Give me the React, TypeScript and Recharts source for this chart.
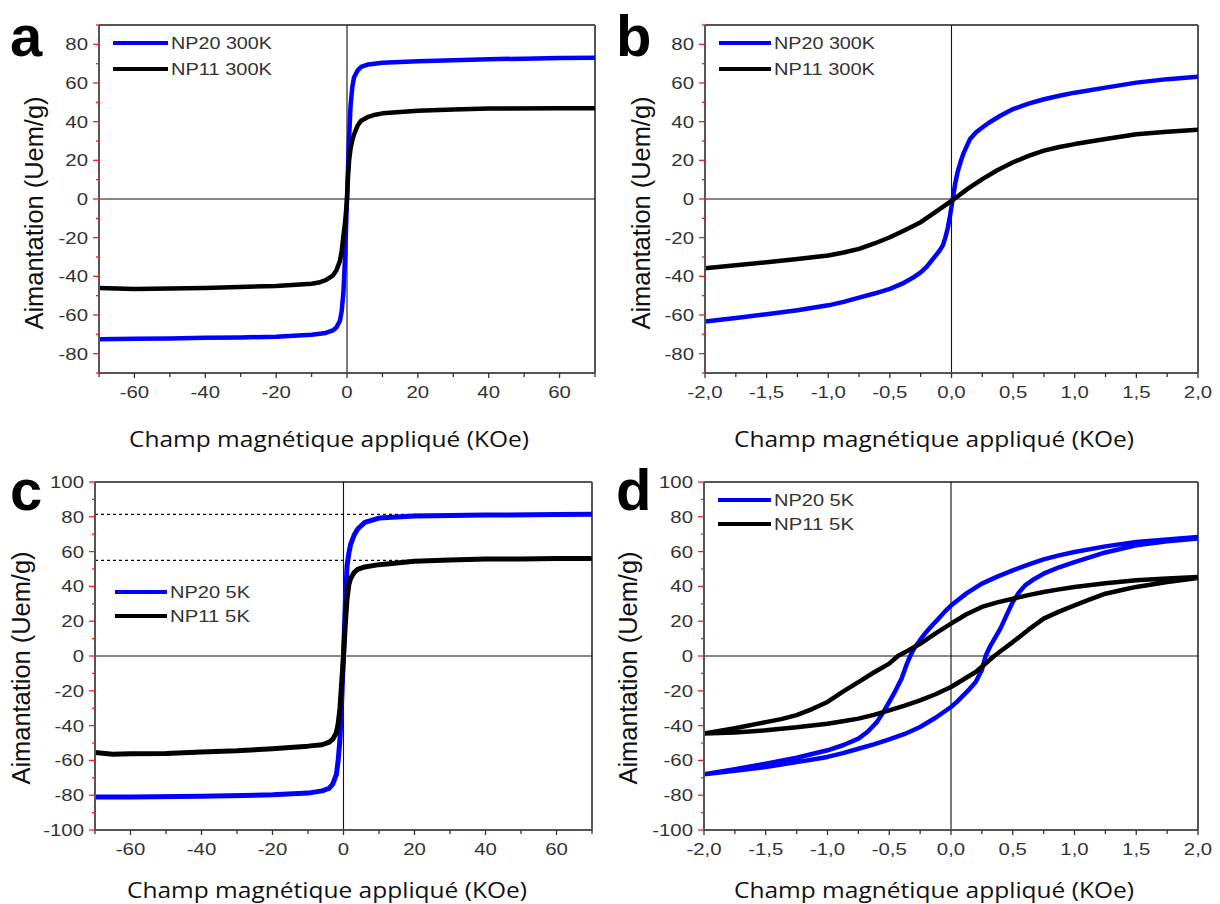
import { LineChart, Line, XAxis, YAxis, ReferenceLine } from 'recharts'

// courbes d'aimantation M(H)
const fieldA20 = [-70, -60, -50, -40, -30, -20, -10, -6, -4, -3, -2, -1.5, -1, -0.5, 0, 0.5, 1, 1.5, 2, 3, 4, 6, 10, 20, 30, 40, 50, 60, 70]
const np20A = [-72.5, -72.3, -72.2, -71.8, -71.6, -71.2, -70.2, -69.3, -68, -66.5, -63, -58, -48, -28, 0, 28, 48, 58, 63, 66.5, 68.3, 69.6, 70.5, 71.3, 71.8, 72.3, 72.6, 72.9, 73.1]
const fieldA11 = [-70, -60, -40, -20, -10, -8, -6, -4, -3, -2, -1.5, -1, -0.6, -0.3, 0, 0.3, 0.6, 1, 1.5, 2, 3, 4, 6, 8, 10, 20, 30, 40, 60, 70]
const np11A = [-46, -46.5, -46, -45, -43.8, -43.2, -42, -39.6, -37, -32, -27, -19, -13, -7, 0, 12, 20, 26, 30.5, 33.5, 38, 40.5, 42.5, 43.6, 44.3, 45.7, 46.3, 46.8, 47, 47]

const fieldB20 = [-2, -1.75, -1.5, -1.25, -1, -0.875, -0.75, -0.625, -0.5, -0.4, -0.3, -0.25, -0.2, -0.15, -0.1, -0.07, -0.05, -0.03, -0.01, 0.01, 0.03, 0.05, 0.075, 0.1, 0.15, 0.2, 0.25, 0.3, 0.4, 0.5, 0.625, 0.75, 0.875, 1, 1.25, 1.5, 1.75, 2]
const np20B = [-63.4, -61.5, -59.6, -57.5, -55, -53.2, -51, -48.9, -46.5, -43.8, -40.2, -38, -35, -31, -27, -24, -20, -15, -8, 0, 8, 14, 19.5, 24, 31, 34.5, 37, 39.3, 43.2, 46.5, 49.3, 51.6, 53.4, 55, 57.6, 60.2, 62, 63.3]
const fieldB11 = [-2, -1.75, -1.5, -1.25, -1, -0.875, -0.75, -0.625, -0.5, -0.375, -0.25, -0.125, 0, 0.125, 0.25, 0.375, 0.5, 0.625, 0.75, 0.875, 1, 1.25, 1.5, 1.75, 2]
const np11B = [-35.8, -34.3, -32.7, -31, -29.2, -27.7, -25.8, -23, -19.8, -16, -12, -6.5, -1, 5, 10.3, 15, 19, 22.3, 25, 26.9, 28.4, 31, 33.5, 34.8, 35.8]

const fieldC20 = [-70, -60, -40, -20, -10, -6, -4, -3, -2, -1.5, -1, -0.5, 0, 0.5, 1, 1.5, 2, 3, 4, 6, 10, 20, 40, 60, 70]
const np20C = [-81, -81, -80.6, -79.8, -78.8, -77.5, -76, -73.5, -68, -60, -48, -25, 0, 30, 52, 59, 64, 69.5, 73, 76.8, 79.3, 80.5, 81, 81.3, 81.4]
const fieldC11 = [-70, -65, -60, -50, -40, -30, -20, -10, -6, -4, -3, -2, -1.5, -1, -0.5, 0, 0.5, 1, 1.5, 2, 3, 4, 6, 10, 20, 30, 40, 50, 60, 70]
const np11C = [-55.5, -56.5, -56.2, -56, -55.2, -54.5, -53.3, -51.8, -51, -49.5, -47.8, -44, -39, -30, -15, 0, 18, 33, 41, 44.5, 48, 49.8, 51.2, 52.5, 54.4, 55.2, 55.8, 55.8, 56, 56]
const satC = [81.4, 55]

// cycles d'hystérésis : branche descendante puis montante
const fieldD20 = [
  2, 1.75, 1.5, 1.25, 1, 0.875, 0.75, 0.625, 0.5, 0.375, 0.25, 0.125, 0, -0.05, -0.1, -0.15, -0.2, -0.25, -0.3, -0.33, -0.36, -0.4, -0.45, -0.5, -0.55, -0.6, -0.675, -0.75, -0.875, -1, -1.25, -1.5, -1.75, -2,
  -1.75, -1.5, -1.25, -1, -0.875, -0.75, -0.625, -0.5, -0.375, -0.25, -0.125, 0, 0.05, 0.1, 0.15, 0.2, 0.25, 0.28, 0.32, 0.4, 0.45, 0.5, 0.55, 0.6, 0.675, 0.75, 0.875, 1, 1.25, 1.5, 1.75, 2,
]
const np20D = [
  68.4, 67, 65.5, 63, 59.8, 57.8, 55.5, 52.5, 49.2, 45.6, 41.6, 36, 29, 25.5, 21.5, 17.8, 13.8, 9.2, 4.2, 0, -5, -13, -20, -26.4, -32.5, -38, -43.5, -47.5, -51.3, -54.2, -58.5, -61.9, -65, -68,
  -66, -63.8, -61, -58, -55.8, -53.3, -50.8, -47.9, -44.8, -40.8, -35.5, -29.3, -26.2, -22.6, -19, -15, -8, 0, 6, 15.7, 23.5, 31, 36.5, 40.6, 44.3, 47.3, 51, 54, 59.5, 63.6, 66, 67.5,
]
const fieldD11 = [
  2, 1.75, 1.5, 1.25, 1, 0.875, 0.75, 0.625, 0.5, 0.375, 0.25, 0.125, 0, -0.125, -0.25, -0.35, -0.43, -0.5, -0.625, -0.75, -0.875, -1, -1.125, -1.25, -1.375, -1.5, -1.75, -2,
  -1.75, -1.5, -1.25, -1, -0.875, -0.75, -0.625, -0.5, -0.375, -0.25, -0.125, 0, 0.1, 0.2, 0.275, 0.35, 0.425, 0.5, 0.625, 0.75, 0.875, 1, 1.125, 1.25, 1.375, 1.5, 1.75, 2,
]
const np11D = [
  45.4, 44.5, 43.5, 41.8, 39.7, 38.3, 36.8, 35, 32.9, 30.8, 28.2, 24, 18.6, 13, 7, 3, 0, -4.4, -9.5, -15, -20.5, -26.4, -30.5, -34, -36.3, -38, -41.5, -44.5,
  -44, -42.7, -41, -38.9, -37.5, -36, -33.8, -31.2, -28.5, -25.5, -22, -17.8, -13.5, -9.2, -4.6, 0, 4, 8, 15, 21.5, 25.5, 29.1, 32.5, 35.8, 37.8, 39.7, 42.5, 44.8,
]

const ticksWide = [-70, -60, -50, -40, -30, -20, -10, 0, 10, 20, 30, 40, 50, 60, 70]
const ticksNarrow = [-2, -1.75, -1.5, -1.25, -1, -0.75, -0.5, -0.25, 0, 0.25, 0.5, 0.75, 1, 1.25, 1.5, 1.75, 2]
const ticks90 = [-90, -80, -70, -60, -50, -40, -30, -20, -10, 0, 10, 20, 30, 40, 50, 60, 70, 80, 90]
const ticks100 = [-100, -90, -80, -70, -60, -50, -40, -30, -20, -10, 0, 10, 20, 30, 40, 50, 60, 70, 80, 90, 100]

const BLUE = '#0000ff'
const FRAME = '#555'
const TICK_FONT = 'Liberation Sans, Arial, sans-serif'

const pts = (xs: number[], ys: number[]) => xs.map((x, i) => ({ x, y: ys[i] }))

const fmtInt = (v: number) => String(v)
const fmtDec = (v: number) => v.toFixed(1).replace('.', ',')

function makeXTick(isMajor: (v: number) => boolean, fmt: (v: number) => string) {
  return (p: any) => {
    const { x, y, payload } = p
    const v = payload.value
    const major = isMajor(v)
    return (
      <g>
        <line x1={x} x2={x} y1={y} y2={y + (major ? 5 : 4)} stroke="#333" strokeWidth={1.3} />
        {major && (
          <text transform={`translate(${x},${y + 25}) scale(1.2,1)`} textAnchor="middle"
            fontSize={17} fill="#333" fontFamily={TICK_FONT}>{fmt(v)}</text>
        )}
      </g>
    )
  }
}

function makeYTick() {
  return (p: any) => {
    const { x, y, payload } = p
    const v = payload.value
    const major = Math.round(v) % 20 === 0
    return (
      <g>
        <line x1={x} x2={x - (major ? 6 : 3)} y1={y} y2={y} stroke="#ff1a1a" strokeWidth={1.3} />
        {major && (
          <text transform={`translate(${x - 11},${y + 6}) scale(1.2,1)`} textAnchor="end"
            fontSize={17} fill="#333" fontFamily={TICK_FONT}>{v}</text>
        )}
      </g>
    )
  }
}

interface Series { data: { x: number; y: number }[]; color: string }

interface PanelProps {
  left: number
  top: number
  margin: { top: number; right: number; bottom: number; left: number }
  yWidth: number
  xDomain: [number, number]
  yDomain: [number, number]
  xTicks: number[]
  yTicks: number[]
  wide: boolean
  series: Series[]
  width: number
  dashed?: number[]
}

function Panel(props: PanelProps) {
  const { left, top, margin, yWidth, xDomain, yDomain, xTicks, yTicks, wide, series, width, dashed } = props
  const xTick = wide
    ? makeXTick(v => Math.round(v) % 20 === 0, fmtInt)
    : makeXTick(v => Math.abs(v * 2 - Math.round(v * 2)) < 1e-6, fmtDec)
  return (
    <div style={{ position: 'absolute', left, top }}>
      <LineChart width={610} height={452} margin={margin}>
        <XAxis type="number" dataKey="x" domain={xDomain} ticks={xTicks} interval={0} allowDataOverflow
          tickSize={0} tickMargin={0} tickLine={false} axisLine={{ stroke: FRAME, strokeWidth: 2 }}
          tick={xTick} height={60} />
        <YAxis type="number" dataKey="y" domain={yDomain} ticks={yTicks} interval={0} allowDataOverflow
          tickSize={0} tickMargin={0} tickLine={false} axisLine={{ stroke: FRAME, strokeWidth: 2 }}
          tick={makeYTick()} width={yWidth} />
        <ReferenceLine y={yDomain[1]} stroke={FRAME} strokeWidth={2} />
        <ReferenceLine x={xDomain[1]} stroke={FRAME} strokeWidth={2} />
        <ReferenceLine y={0} stroke="#111" strokeWidth={1.1} />
        <ReferenceLine x={0} stroke="#111" strokeWidth={1.1} />
        {(dashed ?? []).map(v => (
          <ReferenceLine key={v} y={v} stroke="#000" strokeWidth={1.2} strokeDasharray="3 3" />
        ))}
        {series.map((s, i) => (
          <Line key={i} data={s.data} dataKey="y" type="linear" dot={false} stroke={s.color}
            strokeWidth={width} strokeLinejoin="round" isAnimationActive={false} />
        ))}
      </LineChart>
    </div>
  )
}

const LABEL_FONT = 'Open Sans, sans-serif'
const XLABEL = 'Champ magnétique appliqué (KOe)'
const YLABEL = 'Aimantation (Uem/g)'

function Legend({ x, y, labels, textW }: { x: [number, number]; y: [number, number]; labels: string[]; textW: number }) {
  const colors = [BLUE, '#000']
  return (
    <g>
      {labels.map((l, i) => (
        <g key={l}>
          <line x1={x[0]} x2={x[1]} y1={y[i]} y2={y[i]} stroke={colors[i]} strokeWidth={4} />
          <text x={x[1] + 3} y={y[i] + 6} fontSize={17} fill="#333" fontFamily={TICK_FONT}
            textLength={textW} lengthAdjust="spacingAndGlyphs">{l}</text>
        </g>
      ))}
    </g>
  )
}

export default function App() {
  return (
    <div style={{ position: 'absolute', left: 0, top: 0, width: 1220, height: 904, background: '#fff', overflow: 'hidden' }}>
      <Panel left={0} top={0} margin={{ top: 25, right: 15, bottom: 19, left: 0 }} yWidth={99}
        xDomain={[-70, 70]} yDomain={[-90, 90]} xTicks={ticksWide} yTicks={ticks90} wide width={4.5}
        series={[{ data: pts(fieldA20, np20A), color: BLUE }, { data: pts(fieldA11, np11A), color: '#000' }]} />
      <Panel left={610} top={0} margin={{ top: 25, right: 22, bottom: 19, left: 0 }} yWidth={95}
        xDomain={[-2, 2]} yDomain={[-90, 90]} xTicks={ticksNarrow} yTicks={ticks90} wide={false} width={4.5}
        series={[{ data: pts(fieldB20, np20B), color: BLUE }, { data: pts(fieldB11, np11B), color: '#000' }]} />
      <Panel left={0} top={452} margin={{ top: 30, right: 18, bottom: 14, left: 0 }} yWidth={95}
        xDomain={[-70, 70]} yDomain={[-100, 100]} xTicks={ticksWide} yTicks={ticks100} wide width={5}
        dashed={satC}
        series={[{ data: pts(fieldC20, np20C), color: BLUE }, { data: pts(fieldC11, np11C), color: '#000' }]} />
      <Panel left={610} top={452} margin={{ top: 30, right: 22, bottom: 14, left: 0 }} yWidth={94}
        xDomain={[-2, 2]} yDomain={[-100, 100]} xTicks={ticksNarrow} yTicks={ticks100} wide={false} width={4.5}
        series={[{ data: pts(fieldD20, np20D), color: BLUE }, { data: pts(fieldD11, np11D), color: '#000' }]} />

      <svg width={1220} height={904} style={{ position: 'absolute', left: 0, top: 0, pointerEvents: 'none' }}>
        {[
          { l: 'a', x: 10, y: 56 },
          { l: 'b', x: 616, y: 56 },
          { l: 'c', x: 10, y: 510 },
          { l: 'd', x: 616, y: 510 },
        ].map(t => (
          <text key={t.l} x={t.x} y={t.y} fontSize={58} fontWeight="bold" fill="#000" fontFamily={TICK_FONT}>{t.l}</text>
        ))}
        {[
          { x: 329, y: 447 },
          { x: 934, y: 447 },
          { x: 327, y: 898 },
          { x: 934, y: 898 },
        ].map((p, i) => (
          <text key={i} x={p.x} y={p.y} textAnchor="middle" fontSize={22} fill="#111" fontFamily={LABEL_FONT}
            textLength={400} lengthAdjust="spacingAndGlyphs">{XLABEL}</text>
        ))}
        {[
          { x: 43, y: 213 },
          { x: 650, y: 213 },
          { x: 30, y: 668 },
          { x: 637, y: 668 },
        ].map((p, i) => (
          <text key={i} x={p.x} y={p.y} textAnchor="middle" fontSize={25} fill="#111" fontFamily={TICK_FONT}
            transform={`rotate(-90 ${p.x} ${p.y})`} textLength={233} lengthAdjust="spacingAndGlyphs">{YLABEL}</text>
        ))}
        <Legend x={[113, 168]} y={[43, 69]} labels={['NP20 300K', 'NP11 300K']} textW={101} />
        <Legend x={[719, 771]} y={[43, 69]} labels={['NP20 300K', 'NP11 300K']} textW={101} />
        <Legend x={[115, 167]} y={[592, 616]} labels={['NP20 5K', 'NP11 5K']} textW={80} />
        <Legend x={[718, 771]} y={[500, 524]} labels={['NP20 5K', 'NP11 5K']} textW={80} />
      </svg>
    </div>
  )
}
